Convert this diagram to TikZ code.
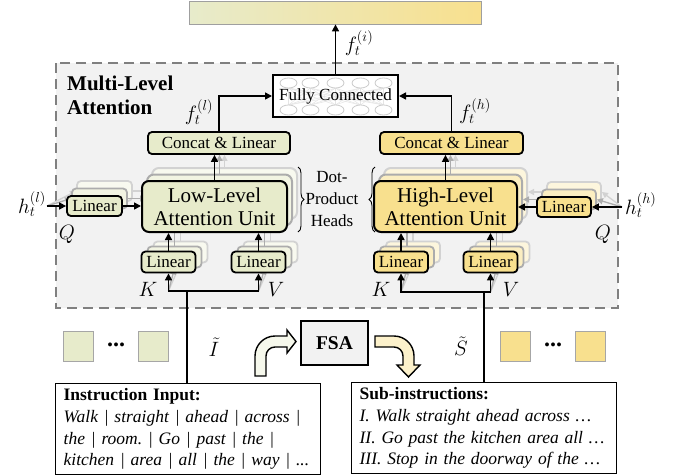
\documentclass[tikz,border=0pt]{standalone}
\usepackage{fontspec}
\setmainfont{Liberation Serif}
\usetikzlibrary{arrows.meta,calc,decorations.pathreplacing}
\frenchspacing

\definecolor{lowfill}{HTML}{E7EBCB}
\definecolor{highfill}{HTML}{F8E08E}
\definecolor{panelgray}{HTML}{F2F2F2}
\definecolor{framegray}{HTML}{808080}
\definecolor{lowarrow}{HTML}{F6F8EC}
\definecolor{higharrow}{HTML}{FCF1CB}

\tikzset{
  unitbox/.style={draw, line width=2pt, rounded corners=7pt, inner sep=0pt, align=center,
    minimum height=51pt, font=\fontsize{21}{23}\selectfont},
  linbox/.style={draw, line width=1.8pt, rounded corners=4pt, inner sep=0pt,
    minimum width=54pt, minimum height=21pt, font=\fontsize{17}{20}\selectfont},
  catbox/.style={draw, line width=1.8pt, rounded corners=4pt, inner sep=0pt,
    minimum height=22pt, font=\fontsize{17}{20}\selectfont},
  fcbox/.style={draw, line width=2pt, fill=white, minimum width=125pt, minimum height=42pt,
    inner sep=0pt, font=\fontsize{17}{20}\selectfont,
    path picture={
      \foreach \x in {-47,-25,0,25,48}{
        \foreach \y in {-47,-25,0,25,48}{
          \draw[gray!20, line width=0.5pt]
            ($(path picture bounding box.center)+(\x,-8)$) -- ($(path picture bounding box.center)+(\y,9)$);
        }
      }
      \foreach \x in {-47,-25,0,25,48}{
        \draw[gray!40, line width=0.8pt, fill=white]
          ($(path picture bounding box.center)+(\x,-13)$) ellipse [x radius=8.5pt, y radius=5pt];
        \draw[gray!40, line width=0.8pt, fill=white]
          ($(path picture bounding box.center)+(\x,14)$) ellipse [x radius=8.5pt, y radius=5pt];
      }
    }},
  arr/.style={line width=1.6pt, -{Triangle[length=7pt,width=7pt]}},
  plain/.style={line width=1.6pt},
  garr/.style={line width=1.3pt, -{Triangle[length=6pt,width=6pt]}},
  mathlbl/.style={inner sep=0pt, font=\fontsize{21.5}{24}\selectfont},
  txtbox/.style={draw, line width=1.3pt, anchor=north west, minimum height=91pt,
    text width=249pt, inner xsep=8pt, inner ysep=0pt, align=left,
    font=\fontsize{17.5}{21.7}\selectfont},
  square/.style={draw=gray!70, line width=0.8pt, minimum width=30pt, minimum height=30pt, inner sep=0pt},
  bentarrow/.style={line width=1.4pt, line join=miter},
  dotrow/.style={inner sep=0pt, font=\fontsize{24}{24}\selectfont\bfseries},
}

\begin{document}
\begin{tikzpicture}[x=1pt,y=-1pt]
\useasboundingbox (0,0) rectangle (677,474);

% dashed panel around the attention module
\draw[draw=framegray, fill=panelgray, line width=2.8pt, dash pattern=on 10pt off 6pt]
  (56,63) rectangle (618,308);

% fused feature vector
\node[draw=gray!75, line width=0.8pt, left color=lowfill, right color=highfill,
  minimum width=292pt, minimum height=23pt, inner sep=0pt] (bar) at (335,12.5) {};

\node[anchor=west, align=left, inner sep=0pt, font=\fontsize{21}{24}\selectfont\bfseries]
  (title) at (67,95) {Multi-Level\\Attention};

\node[fcbox] (fc) at (335.5,96) {Fully Connected};

\node[catbox, fill=lowfill, minimum width=142pt] (catL) at (219,143) {Concat \& Linear};
\node[catbox, fill=highfill, minimum width=143pt] (catH) at (451.5,143) {Concat \& Linear};

\draw[arr] (fc.north) -- (fc.north |- bar.south);
\draw[arr] (catL.north) |- (fc.west);
\draw[arr] (catH.north) |- (fc.east);

% input junctions
\coordinate (hLin) at (47,206);
\coordinate (hHin) at (622,207);
\coordinate (kLin) at (168.5,291);
\coordinate (vLin) at (258.5,291);
\coordinate (jL) at (187,291);
\coordinate (kHin) at (401,292);
\coordinate (vHin) at (490.5,292);
\coordinate (jH) at (484,292);

% stacked copies for the other dot-product heads
\foreach \k/\ec/\fl in {2/gray!35/30, 1/gray!65/55}{
  \node[unitbox, draw=\ec, fill=lowfill!\fl!white, minimum width=145pt] (attL\k) at (214.5+5*\k,206.5-6.5*\k) {};
  \node[unitbox, draw=\ec, fill=highfill!\fl!white, minimum width=143pt] (attH\k) at (445.5+5*\k,206.5-6.5*\k) {};
  \node[linbox, draw=\ec, fill=lowfill!\fl!white, minimum width=55pt, minimum height=20pt] (qL\k) at (94.5+5*\k,206-7.5*\k) {};
  \node[linbox, draw=\ec, fill=highfill!\fl!white, minimum height=20pt] (qH\k) at (564+5*\k,207-7.5*\k) {};
  \node[linbox, draw=\ec, fill=lowfill!\fl!white] (kL\k) at (168.5+6*\k,262-5*\k) {};
  \node[linbox, draw=\ec, fill=lowfill!\fl!white] (vL\k) at (258.5+6*\k,262-5*\k) {};
  \node[linbox, draw=\ec, fill=highfill!\fl!white] (kH\k) at (401+6*\k,262-5*\k) {};
  \node[linbox, draw=\ec, fill=highfill!\fl!white] (vH\k) at (490.5+6*\k,262-5*\k) {};
  \begin{scope}[garr, color=\ec]
    \draw (attL\k.north) -- (attL\k.north |- catL.south);
    \draw (attH\k.north) -- (attH\k.north |- catH.south);
    \draw (qL\k.east) -- (qL\k.east -| attL\k.west);
    \draw (qH\k.west) -- (qH\k.west -| attH\k.east);
    \draw (hLin) -- (qL\k.west);
    \draw (hHin) -- (qH\k.east);
    \draw (kL\k.north) -- (kL\k.north |- attL\k.south);
    \draw (vL\k.north) -- (vL\k.north |- attL\k.south);
    \draw (kH\k.north) -- (kH\k.north |- attH\k.south);
    \draw (vH\k.north) -- (vH\k.north |- attH\k.south);
    \draw (kLin) -- (kL\k.south);
    \draw (vLin) -- (vL\k.south);
    \draw (kHin) -- (kH\k.south);
    \draw (vHin) -- (vH\k.south);
  \end{scope}
}

% front head
\node[unitbox, fill=lowfill, minimum width=145pt] (attL0) at (214.5,206.5) {Low-Level\\Attention Unit};
\node[unitbox, fill=highfill, minimum width=143pt] (attH0) at (445.5,206.5) {High-Level\\Attention Unit};
\node[linbox, fill=lowfill, minimum width=55pt, minimum height=20pt] (qL0) at (94.5,206) {Linear};
\node[linbox, fill=highfill, minimum height=20pt] (qH0) at (564,207) {Linear};
\node[linbox, fill=lowfill] (kL0) at (168.5,262) {Linear};
\node[linbox, fill=lowfill] (vL0) at (258.5,262) {Linear};
\node[linbox, fill=highfill] (kH0) at (401,262) {Linear};
\node[linbox, fill=highfill] (vH0) at (490.5,262) {Linear};

\draw[arr] (attL0.north) -- (attL0.north |- catL.south);
\draw[arr] (attH0.north) -- (attH0.north |- catH.south);
\draw[arr] (qL0.east) -- (qL0.east -| attL0.west);
\draw[arr] (qH0.west) -- (qH0.west -| attH0.east);
\draw[arr] (hLin) -- (qL0.west);
\draw[arr] (hHin) -- (qH0.east);
\draw[arr] (kL0.north) -- (kL0.north |- attL0.south);
\draw[arr] (vL0.north) -- (vL0.north |- attL0.south);
\draw[arr] (kH0.north) -- (kH0.north |- attH0.south);
\draw[arr] (vH0.north) -- (vH0.north |- attH0.south);

% braces marking the heads
\draw[decorate, decoration={brace, amplitude=6pt}, line width=0.9pt] (298,167) -- (298,232);
\draw[decorate, decoration={brace, amplitude=6pt}, line width=0.9pt] (375,232) -- (375,167);
\node[align=center, inner sep=0pt, font=\fontsize{17}{22}\selectfont] (dph) at (332,199) {Dot-\\Product\\Heads};

% math labels
\node[mathlbl, anchor=east] (hl) at (46,204) {$h_t^{(l)}$};
\node[mathlbl, anchor=west] (hh) at (625,205) {$h_t^{(h)}$};
\node[mathlbl] (fl) at (199,112) {$f_t^{(l)}$};
\node[mathlbl] (fh) at (475,111) {$f_t^{(h)}$};
\node[mathlbl] (fi) at (359,43) {$f_t^{(i)}$};
\node[mathlbl] (qlab1) at (67,234) {$Q$};
\node[mathlbl] (qlab2) at (603,234) {$Q$};
\node[mathlbl] (klab1) at (148,289) {$K$};
\node[mathlbl] (vlab1) at (276,289) {$V$};
\node[mathlbl] (klab2) at (381,289) {$K$};
\node[mathlbl] (vlab2) at (511,289) {$V$};

% word and sub-instruction features
\node[square, fill=lowfill] (sqL1) at (78.5,346) {};
\node[square, fill=lowfill] (sqL2) at (153.5,346) {};
\node[dotrow] (dotsL) at (116,345) {...};
\node[square, fill=highfill] (sqH1) at (515.5,346) {};
\node[square, fill=highfill] (sqH2) at (590,346) {};
\node[dotrow] (dotsH) at (553,345) {...};
\node[mathlbl] (itil) at (214,347) {$\tilde{I}$};
\node[mathlbl] (stil) at (461,346) {$\tilde{S}$};

\node[draw, line width=2pt, fill=panelgray, minimum width=67pt, minimum height=44pt, inner sep=0pt,
  font=\fontsize{19.5}{20}\selectfont\bfseries] (fsa) at (334.5,343) {FSA};

% bent arrows into and out of the FSA
\draw[bentarrow, fill=lowarrow]
  (255,376) -- (255,356) .. controls (255,345) and (264,336) .. (275,336)
  -- (287,336) -- (287,330) -- (296,341.5) -- (287,353) -- (287,347) -- (275,347)
  .. controls (270,347) and (266,351) .. (266,356) -- (266,376) -- cycle;
\draw[bentarrow, fill=higharrow]
  (375,336) -- (394,336) .. controls (405,336) and (414,345) .. (414,356)
  -- (414,365) -- (420,365) -- (408.5,377) -- (397,365) -- (403,365) -- (403,356)
  .. controls (403,351) and (399,347) .. (394,347) -- (375,347) -- cycle;

% text inputs
\node[txtbox] (inst) at (55,383) {\textbf{Instruction Input:}\\
  \textit{Walk | straight | ahead | across |}\\
  \textit{the | room. | Go | past | the |}\\
  \textit{kitchen | area | all | the | way | ...}};
\node[txtbox] (sub) at (351,382) {\textbf{Sub-instructions:}\\
  \textit{I. Walk straight ahead across …}\\
  \textit{II. Go past the kitchen area all …}\\
  \textit{III. Stop in the doorway of the …}};

% feeding the keys and values
\draw[plain] (inst.north -| jL) -- (jL);
\draw[arr] (jL) -| (kL0.south);
\draw[arr] (jL) -| (vL0.south);
\draw[plain] (sub.north -| jH) -- (jH);
\draw[arr] (jH) -| (kH0.south);
\draw[arr] (jH) -| (vH0.south);
\end{tikzpicture}
\end{document}
